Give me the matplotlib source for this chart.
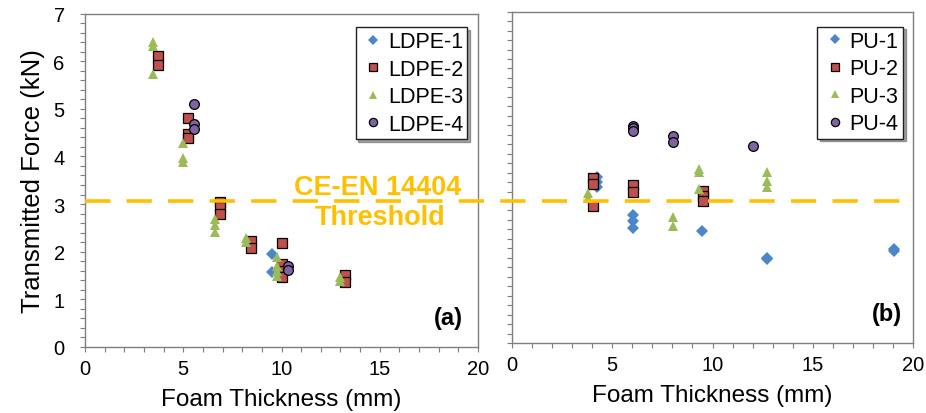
import matplotlib
matplotlib.use("Agg")
import matplotlib.pyplot as plt
from matplotlib.lines import Line2D
from matplotlib.ticker import MultipleLocator
from matplotlib import font_manager

names = {f.name for f in font_manager.fontManager.ttflist}
NARROW = 'Liberation Sans Narrow' if 'Liberation Sans Narrow' in names else 'Liberation Sans'
REG = 'Liberation Sans'

# ---- data: panel (a) LDPE ----
ldpe1_x = [9.52, 9.52]
ldpe1_y = [1.95, 1.57]
ldpe2_x = [3.70, 3.70, 5.26, 5.26, 5.26, 6.87, 6.87, 6.87, 8.45, 8.45, 10.04, 10.04, 10.04, 10.04, 13.23, 13.23]
ldpe2_y = [6.11, 5.92, 4.80, 4.47, 4.38, 3.05, 2.93, 2.79, 2.23, 2.07, 2.18, 1.74, 1.60, 1.46, 1.51, 1.37]
ldpe3_x = [3.44, 3.44, 3.44, 5.00, 5.00, 5.00, 6.62, 6.62, 6.62, 8.18, 8.18, 9.79, 9.79, 9.79, 9.79, 12.98, 12.98]
ldpe3_y = [6.40, 6.32, 5.73, 4.28, 3.96, 3.88, 2.69, 2.56, 2.42, 2.28, 2.20, 1.88, 1.71, 1.60, 1.48, 1.46, 1.39]
ldpe4_x = [5.55, 5.55, 5.55, 10.32, 10.32]
ldpe4_y = [5.10, 4.68, 4.58, 1.71, 1.62]

# ---- data: panel (b) PU ----
pu1_x = [4.22, 4.22, 4.22, 6.02, 6.02, 6.02, 9.50, 12.70, 12.70, 19.07, 19.07]
pu1_y = [3.50, 3.41, 3.29, 2.70, 2.58, 2.42, 2.37, 1.77, 1.80, 1.95, 1.98]
pu2_x = [4.02, 4.02, 4.02, 6.02, 6.02, 9.54, 9.54, 9.54]
pu2_y = [3.49, 3.36, 2.90, 3.34, 3.20, 3.22, 3.11, 2.99]
pu3_x = [3.81, 3.81, 8.01, 8.01, 9.31, 9.31, 9.31, 12.70, 12.70, 12.70]
pu3_y = [3.16, 3.06, 2.66, 2.48, 3.68, 3.61, 3.25, 3.62, 3.43, 3.29]
pu4_x = [6.02, 6.02, 6.02, 8.01, 8.01, 12.00]
pu4_y = [4.59, 4.54, 4.48, 4.37, 4.25, 4.16]

threshold_lines = ["CE-EN 14404", "Threshold"]
xticks = [0, 5, 10, 15, 20]
yticks = [0, 1, 2, 3, 4, 5, 6, 7]

BLUE = '#4a86c8'
RED = '#c0504d'
GREEN = '#9bbb59'
PURPLE = '#8064a2'
ORANGE = '#ffc000'
GRAY = '#7f7f7f'

W, H = 926, 414
fig = plt.figure(figsize=(W / 100, H / 100), dpi=100)

def box(l, t, r, b):
    return [l / W, 1 - b / H, (r - l) / W, (b - t) / H]

ax1 = fig.add_axes(box(85, 14.5, 478, 348))
ax2 = fig.add_axes(box(512, 12.7, 913, 344))

def style(ax, show_ylabels):
    ax.set_xlim(0, 20)
    ax.set_ylim(0, 7)
    ax.set_xticks(xticks)
    ax.set_yticks(yticks)
    ax.xaxis.set_minor_locator(MultipleLocator(1))
    ax.yaxis.set_minor_locator(MultipleLocator(0.2))
    ax.tick_params(which='both', direction='out', length=3.6, width=0.8, color=GRAY,
                   labelsize=14.5)
    ax.tick_params(axis='x', pad=5)
    ax.tick_params(axis='y', pad=11)
    for sp in ax.spines.values():
        sp.set_color(GRAY)
        sp.set_linewidth(1.0)
    for lab in ax.get_xticklabels() + ax.get_yticklabels():
        lab.set_fontfamily(NARROW)
    if not show_ylabels:
        ax.set_yticklabels([])
    ax.set_xlabel('Foam Thickness (mm)', fontsize=17.5, fontfamily=NARROW, labelpad=7)

def series(ax, x, y, marker, color, label, ms, edge):
    ax.plot(x, y, linestyle='none', marker=marker, markersize=ms, markerfacecolor=color,
            markeredgecolor=('black' if edge else color), markeredgewidth=(0.9 if edge else 0),
            label=label)

series(ax1, ldpe1_x, ldpe1_y, 'D', BLUE, 'LDPE-1', 6, False)
series(ax1, ldpe2_x, ldpe2_y, 's', RED, 'LDPE-2', 7, True)
series(ax1, ldpe3_x, ldpe3_y, '^', GREEN, 'LDPE-3', 7.5, False)
series(ax1, ldpe4_x, ldpe4_y, 'o', PURPLE, 'LDPE-4', 7, True)

series(ax2, pu1_x, pu1_y, 'D', BLUE, 'PU-1', 6, False)
series(ax2, pu2_x, pu2_y, 's', RED, 'PU-2', 7, True)
series(ax2, pu3_x, pu3_y, '^', GREEN, 'PU-3', 7.5, False)
series(ax2, pu4_x, pu4_y, 'o', PURPLE, 'PU-4', 7, True)

style(ax1, True)
style(ax2, False)
ax1.set_ylabel('Transmitted Force (kN)', fontsize=18.5, fontfamily=NARROW, labelpad=6)

for ax, anchor in ((ax1, (0.973, 0.96)), (ax2, (0.975, 0.955))):
    leg = ax.legend(loc='upper right', bbox_to_anchor=anchor, borderaxespad=0, frameon=True,
                    fancybox=False, shadow=True, handletextpad=0.1, handlelength=1.2,
                    borderpad=0.2, labelspacing=0.3, prop={'family': REG, 'size': 15.5},
                    markerscale=0.85)
    leg.get_frame().set_edgecolor('#202020')
    leg.get_frame().set_linewidth(1.0)

ax1.text(0.925, 0.055, '(a)', transform=ax1.transAxes, ha='center', va='bottom',
         fontsize=17, fontweight='bold', fontfamily=REG)
ax2.text(0.935, 0.055, '(b)', transform=ax2.transAxes, ha='center', va='bottom',
         fontsize=17, fontweight='bold', fontfamily=REG)

# threshold dashed line spanning both panels
ty = 1 - 201.5 / H
fig.add_artist(Line2D([85 / W, 913 / W], [ty, ty], transform=fig.transFigure,
                      color=ORANGE, linewidth=2.6, dashes=(7, 4.5)))
fig.text(378 / W, 1 - 188 / H, threshold_lines[0], ha='center', va='center', color=ORANGE,
         fontsize=19.5, fontweight='bold', fontfamily=REG)
fig.text(380 / W, 1 - 218 / H, threshold_lines[1], ha='center', va='center', color=ORANGE,
         fontsize=19.5, fontweight='bold', fontfamily=REG)

fig.savefig('out.png', dpi=100)
